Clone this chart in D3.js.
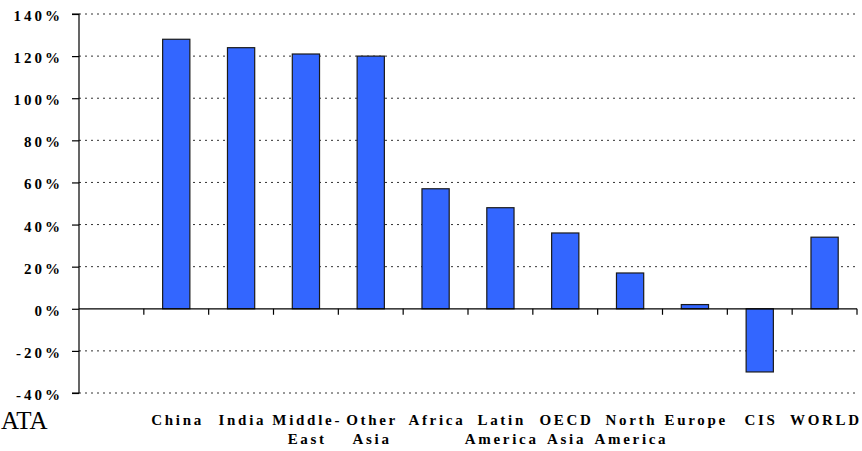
<!DOCTYPE html>
<html>
<head>
<meta charset="utf-8">
<script src="https://cdn.jsdelivr.net/npm/d3@7"></script>
<style>
  html, body { margin: 0; padding: 0; background: #fff; }
  svg { display: block; }
</style>
</head>
<body>
<svg id="chart" width="862" height="451"></svg>
<script>
// ---- data ----
const categories = ["", "China", "India", "Middle-East", "Other Asia", "Africa", "Latin America", "OECD Asia", "North America", "Europe", "CIS", "WORLD"];
const categoryLabels = [[], ["China"], ["India"], ["Middle-", "East"], ["Other", "Asia"], ["Africa"], ["Latin", "America"], ["OECD", "Asia"], ["North", "America"], ["Europe"], ["CIS"], ["WORLD"]];
const values = [null, 128, 124, 121, 120, 57, 48, 36, 17, 2, -30, 34];
const yTicks = [-40, -20, 0, 20, 40, 60, 80, 100, 120, 140];
const sideText = "ATA";

// ---- layout ----
const svg = d3.select("#chart");
const plotLeft = 79, plotRight = 857, plotTop = 14, plotBottom = 393;

const x = d3.scaleBand().domain(categories).range([plotLeft, plotRight]).paddingInner(0).paddingOuter(0);
const y = d3.scaleLinear().domain([-40, 140]).range([plotBottom, plotTop]);

const serif = "'Liberation Serif', 'Times New Roman', serif";

// gridlines (dotted), except 0
svg.append("g").selectAll("line")
  .data(yTicks.filter(d => d !== 0))
  .join("line")
  .attr("x1", plotLeft).attr("x2", plotRight)
  .attr("y1", d => y(d)).attr("y2", d => y(d))
  .attr("stroke", "#333").attr("stroke-width", 1)
  .attr("stroke-dasharray", "2,4");

// bars
const barW = x.bandwidth() * 0.42;
svg.append("g").selectAll("rect")
  .data(categories.map((c, i) => ({ c, v: values[i] })).filter(d => d.v !== null))
  .join("rect")
  .attr("x", d => x(d.c) + (x.bandwidth() - barW) / 2)
  .attr("width", barW)
  .attr("y", d => y(Math.max(0, d.v)))
  .attr("height", d => Math.abs(y(d.v) - y(0)))
  .attr("fill", "#3366ff")
  .attr("stroke", "#1a1a1a")
  .attr("stroke-width", 1.2);

// y axis
const yAxis = d3.axisLeft(y).tickValues(yTicks).tickSize(7).tickFormat("");
const gy = svg.append("g").attr("transform", `translate(${plotLeft},0)`).call(yAxis);
gy.select(".domain").attr("stroke", "#000").attr("stroke-width", 1.2).attr("d", `M-7,${y(140)}H0V${y(-40)}H-7`);
gy.selectAll(".tick line").attr("stroke", "#000").attr("stroke-width", 1.2);

svg.append("g").selectAll("text")
  .data(yTicks)
  .join("text")
  .attr("x", 63)
  .attr("y", d => y(d) + 7)
  .attr("text-anchor", "end")
  .attr("font-family", serif)
  .attr("font-weight", "bold")
  .attr("font-size", 15)
  .attr("letter-spacing", 3)
  .attr("fill", "#000")
  .text(d => d + "%");

// x axis at zero with category-boundary ticks
svg.append("line")
  .attr("x1", plotLeft).attr("x2", plotRight)
  .attr("y1", y(0)).attr("y2", y(0))
  .attr("stroke", "#000").attr("stroke-width", 1.2);
svg.append("g").selectAll("line")
  .data(categories.slice(1).map(c => x(c)).concat([plotRight]))
  .join("line")
  .attr("x1", d => d).attr("x2", d => d)
  .attr("y1", y(0)).attr("y2", y(0) + 6)
  .attr("stroke", "#000").attr("stroke-width", 1.2);

// category labels
const lab = svg.append("g").selectAll("text")
  .data(categories.map((c, i) => ({ c, lines: categoryLabels[i] })))
  .join("text")
  .attr("font-family", serif)
  .attr("font-weight", "bold")
  .attr("font-size", 15)
  .attr("letter-spacing", 2.7)
  .attr("text-anchor", "middle")
  .attr("fill", "#000");
lab.each(function(d) {
  const cx = x(d.c) + x.bandwidth() / 2 + 1.3;
  d3.select(this).selectAll("tspan")
    .data(d.lines)
    .join("tspan")
    .attr("x", cx)
    .attr("y", (l, j) => 425 + j * 19)
    .text(l => l);
});

// side text at the lower left
svg.append("text")
  .attr("x", 1).attr("y", 429)
  .attr("font-family", serif)
  .attr("font-size", 25)
  .attr("fill", "#000")
  .text(sideText);
</script>
</body>
</html>
